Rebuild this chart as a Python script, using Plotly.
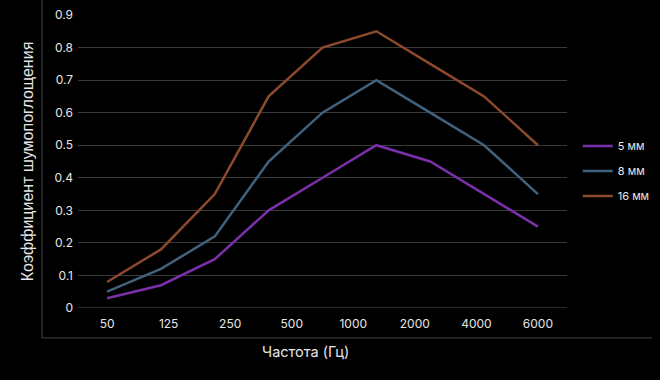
import plotly.graph_objects as go

freq_labels = ["50", "125", "250", "500", "1000", "2000", "4000", "6000"]
series_names = ["5 мм", "8 мм", "16 мм"]
vals_5 = [0.03, 0.07, 0.15, 0.30, 0.40, 0.50, 0.45, 0.35, 0.25]
vals_8 = [0.05, 0.12, 0.22, 0.45, 0.60, 0.70, 0.60, 0.50, 0.35]
vals_16 = [0.08, 0.18, 0.35, 0.65, 0.80, 0.85, 0.75, 0.65, 0.50]
colors = ["#7b2fa8", "#41627f", "#8b4a2c"]

n_pts = len(vals_5)
xs = list(range(n_pts))
span = n_pts - 1
tickvals = [i * span / (len(freq_labels) - 1) for i in range(len(freq_labels))]

fig = go.Figure()
for i, (name, vals, c) in enumerate(zip(series_names, [vals_5, vals_8, vals_16], colors)):
    fig.add_trace(go.Scatter(x=xs, y=vals, mode="lines", name=name,
                             legendgroup=f"g{i}",
                             line=dict(color=c, width=2.5)))

font_main = "Inter, Roboto, sans-serif"
fig.update_layout(
    width=660, height=380,
    paper_bgcolor="#000000", plot_bgcolor="#000000",
    margin=dict(l=78, r=93, t=15, b=72, autoexpand=False),
    showlegend=True,
    legend=dict(x=1.022, y=0.468, xanchor="left", yanchor="middle",
                font=dict(family=font_main, size=11, color="#e6e6e6"),
                bgcolor="rgba(0,0,0,0)", tracegroupgap=6, itemwidth=30),
    xaxis=dict(range=[-0.54, span + 0.54], tickvals=tickvals, ticktext=freq_labels,
               showgrid=False, zeroline=False, showline=False, ticks="",
               ticklabelstandoff=7,
               tickfont=dict(family=font_main, size=12, color="#e6e6e6")),
    yaxis=dict(range=[0, 0.9], dtick=0.1, tickformat="~g",
               showgrid=True, gridcolor="#3a3a3a", gridwidth=1,
               zeroline=False, showline=False, ticks="",
               ticklabelstandoff=4,
               tickfont=dict(family=font_main, size=12, color="#e6e6e6"),
               title=dict(text="Коэффициент шумопоглощения", standoff=16,
                          font=dict(family="Liberation Sans, Arial, sans-serif",
                                    size=16, color="#e6e6e6"))),
    annotations=[dict(text="Частота (Гц)", xref="paper", yref="paper",
                      x=0.466, y=-0.15, xanchor="center", yanchor="middle",
                      showarrow=False,
                      font=dict(family=font_main, size=14.5, color="#e6e6e6"))],
    shapes=[
        dict(type="line", xref="paper", yref="paper", x0=-0.0736, x1=-0.0736,
             y0=-0.102, y1=1.06, line=dict(color="#444444", width=1)),
        dict(type="line", xref="paper", yref="paper", x0=-0.0736, x1=1.174,
             y0=-0.102, y1=-0.102, line=dict(color="#444444", width=1)),
        dict(type="line", xref="paper", yref="y", x0=0, x1=1, y0=0, y1=0,
             line=dict(color="#555555", width=1), layer="below"),
    ],
)

fig.write_html("out.html", config={"displayModeBar": False},
               post_script="document.body.style.margin='0';document.body.style.overflow='hidden';")
